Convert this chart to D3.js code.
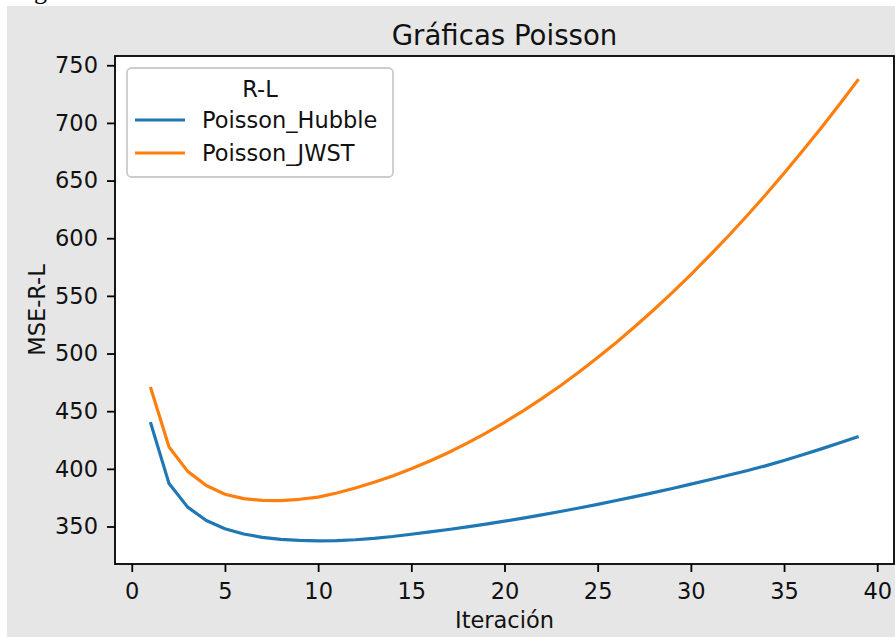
<!DOCTYPE html>
<html>
<head>
<meta charset="utf-8">
<script src="https://cdn.jsdelivr.net/npm/d3@7"></script>
<style>
  html, body { margin: 0; padding: 0; background: #ffffff; }
  svg { display: block; }
  text { font-family: "DejaVu Sans", sans-serif; fill: #111; }
</style>
</head>
<body>
<svg id="chart" width="895" height="637"></svg>
<script>
// Iteration numbers (x axis)
const iterations = [1, 2, 3, 4, 5, 6, 7, 8, 9, 10, 11, 12, 13, 14, 15, 16, 17, 18, 19, 20,
                    21, 22, 23, 24, 25, 26, 27, 28, 29, 30, 31, 32, 33, 34, 35, 36, 37, 38, 39];

// MSE of the Richardson-Lucy deconvolution, Hubble PSF
const hubbleMSE = [440.5, 387.2, 366.8, 355.2, 348.0, 343.5, 340.6, 338.9, 337.9, 337.5,
                   337.8, 338.5, 339.7, 341.3, 343.3, 345.3, 347.4, 349.7, 352.1, 354.6,
                   357.3, 360.1, 363.0, 366.0, 369.2, 372.5, 375.9, 379.4, 383.0, 386.7,
                   390.5, 394.4, 398.4, 402.6, 407.3, 412.2, 417.3, 422.6, 428.0];

// MSE of the Richardson-Lucy deconvolution, JWST PSF
const jwstMSE = [471.0, 419.0, 397.8, 385.6, 378.0, 374.2, 372.6, 372.5, 373.6, 375.5,
                 379.1, 383.4, 388.3, 393.8, 400.0, 406.8, 414.2, 422.3, 431.0, 440.3,
                 450.3, 460.9, 472.1, 484.0, 496.5, 509.6, 523.4, 537.8, 552.8, 568.5,
                 584.8, 601.7, 619.3, 637.5, 656.3, 675.8, 695.9, 716.6, 738.0];

const seriesNames = ["Poisson_Hubble", "Poisson_JWST"];
const seriesColors = ["#1f77b4", "#ff7f0e"];
const xTicks = [0, 5, 10, 15, 20, 25, 30, 35, 40];
const yTicks = [350, 400, 450, 500, 550, 600, 650, 700, 750];

const chartTitle = "Gráficas Poisson";
const xLabel = "Iteración";
const yLabel = "MSE-R-L";
const legendTitle = "R-L";

const W = 895, H = 637;
const plot = { left: 115, right: 894, top: 56, bottom: 564 };

const svg = d3.select("#chart");

// page strip and figure background
svg.append("rect").attr("x", 0).attr("y", 0).attr("width", W).attr("height", H).attr("fill", "#ffffff");
svg.append("text")
  .attr("x", 34).attr("y", -1)
  .style("font-family", "'Liberation Serif', serif")
  .style("font-size", "26px")
  .style("fill", "#000")
  .text("g");
svg.append("rect").attr("x", 7).attr("y", 6).attr("width", W - 7).attr("height", H - 6).attr("fill", "#e6e6e6");

// axes area
svg.append("rect")
  .attr("x", plot.left).attr("y", plot.top)
  .attr("width", plot.right - plot.left).attr("height", plot.bottom - plot.top)
  .attr("fill", "#ffffff");

// scales with 5% padding around the data range
const xExt = d3.extent(iterations);
const xPad = (xExt[1] - xExt[0]) * 0.05;
const x = d3.scaleLinear().domain([xExt[0] - xPad, xExt[1] + xPad]).range([plot.left, plot.right]);

const yExt = d3.extent(hubbleMSE.concat(jwstMSE));
const yPad = (yExt[1] - yExt[0]) * 0.05;
const y = d3.scaleLinear().domain([yExt[0] - yPad, yExt[1] + yPad]).range([plot.bottom, plot.top]);

const fontTick = "22.5px";

// x axis
const gx = svg.append("g")
  .attr("transform", `translate(0,${plot.bottom})`)
  .call(d3.axisBottom(x).tickValues(xTicks).tickFormat(d3.format("d")).tickSize(8).tickPadding(11));
gx.select(".domain").remove();
gx.selectAll(".tick line").attr("stroke", "#000").attr("stroke-width", 1.8);
gx.selectAll(".tick text").style("font-size", fontTick).style("font-family", "'DejaVu Sans', sans-serif").attr("fill", "#111");

// y axis
const gy = svg.append("g")
  .attr("transform", `translate(${plot.left},0)`)
  .call(d3.axisLeft(y).tickValues(yTicks).tickFormat(d3.format("d")).tickSize(8).tickPadding(9));
gy.select(".domain").remove();
gy.selectAll(".tick line").attr("stroke", "#000").attr("stroke-width", 1.8);
gy.selectAll(".tick text").style("font-size", fontTick).style("font-family", "'DejaVu Sans', sans-serif").attr("fill", "#111");

// series lines
const series = [hubbleMSE, jwstMSE];
const line = d3.line().x((d, i) => x(iterations[i])).y(d => y(d));
series.forEach((vals, k) => {
  svg.append("path")
    .datum(vals)
    .attr("d", line)
    .attr("fill", "none")
    .attr("stroke", seriesColors[k])
    .attr("stroke-width", 3.2)
    .attr("stroke-linejoin", "round")
    .attr("stroke-linecap", "butt");
});

// frame
svg.append("rect")
  .attr("x", plot.left).attr("y", plot.top)
  .attr("width", plot.right - plot.left).attr("height", plot.bottom - plot.top)
  .attr("fill", "none").attr("stroke", "#000").attr("stroke-width", 1.8);

// title and axis labels
svg.append("text")
  .attr("x", (plot.left + plot.right) / 2).attr("y", 45)
  .attr("text-anchor", "middle")
  .style("font-size", "27.6px")
  .text(chartTitle);

svg.append("text")
  .attr("x", (plot.left + plot.right) / 2).attr("y", 628)
  .attr("text-anchor", "middle")
  .style("font-size", fontTick)
  .text(xLabel);

svg.append("text")
  .attr("transform", `translate(45,${(plot.top + plot.bottom) / 2}) rotate(-90)`)
  .attr("text-anchor", "middle")
  .style("font-size", fontTick)
  .text(yLabel);

// legend
const lg = svg.append("g");
lg.append("rect")
  .attr("x", 127).attr("y", 68).attr("width", 266).attr("height", 109)
  .attr("rx", 4.5).attr("ry", 4.5)
  .attr("fill", "#ffffff").attr("fill-opacity", 0.8)
  .attr("stroke", "#cccccc").attr("stroke-width", 1.8);
lg.append("text")
  .attr("x", 260).attr("y", 97)
  .attr("text-anchor", "middle")
  .style("font-size", fontTick)
  .text(legendTitle);
seriesNames.forEach((name, k) => {
  const cy = 120 + k * 33;
  lg.append("line")
    .attr("x1", 135).attr("x2", 185).attr("y1", cy).attr("y2", cy)
    .attr("stroke", seriesColors[k]).attr("stroke-width", 3.2);
  lg.append("text")
    .attr("x", 202).attr("y", cy + 8)
    .style("font-size", fontTick)
    .text(name);
});
</script>
</body>
</html>
